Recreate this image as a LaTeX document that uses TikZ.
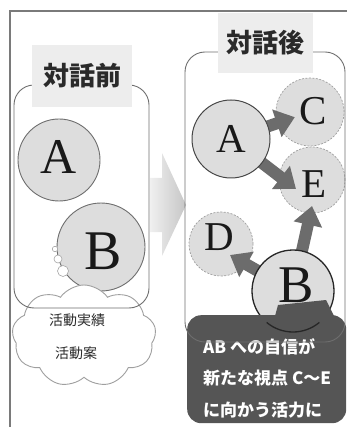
\documentclass[tikz,border=0pt]{standalone}
\usepackage{fontspec}
\newfontfamily\jp{Noto Sans CJK JP}
\newfontfamily\lt{Liberation Serif}
\usetikzlibrary{arrows.meta,shapes.symbols,calc}
\definecolor{cfill}{HTML}{DDDDDD}
\definecolor{cline}{HTML}{6E6E6E}
\definecolor{lblfill}{HTML}{EDEDED}
\definecolor{arrowc}{HTML}{6C6C6C}
\definecolor{boxc}{HTML}{555555}
\definecolor{framec}{HTML}{7A7A7A}
\definecolor{txtc}{HTML}{2A2A2A}
\begin{document}
\begin{tikzpicture}[x=1pt,y=-1pt,
  circ/.style={circle,inner sep=0pt,fill=cfill,draw=cline,line width=0.9pt},
  dcirc/.style={circle,inner sep=0pt,fill=cfill,draw=gray!75,dash pattern=on 2pt off 1.5pt,line width=0.7pt},
  lbl/.style={fill=lblfill,inner sep=0pt,text=txtc,font=\jp\bfseries\fontsize{26}{26}\selectfont},
  panel/.style={draw=cline,line width=0.9pt,rounded corners=20pt,inner sep=0pt},
  fat/.style={draw=arrowc,line width=12pt,-{Triangle[width=28pt,length=19pt]}},
  bubble/.style={circle,inner sep=0pt,draw=gray!70,fill=white,line width=0.6pt},
  cloudtxt/.style={text=txtc,font=\jp\fontsize{14}{14}\selectfont},
  boxtxt/.style={text=white,anchor=west,inner sep=0pt,font=\jp\bfseries\fontsize{17}{17}\selectfont},
  letter/.style={inner sep=0pt,text=black!90,font=\lt\fontsize{#1}{#1}\selectfont},
]
\useasboundingbox (0,0) rectangle (347,427);
% outer frame
\draw[framec,line width=2pt] (10,427) -- (10,11) -- (347,11);
% big transition arrow
\shade[left color=gray!12,right color=gray!45]
  (150,178) -- (162,178) -- (162,153) -- (186,205) -- (162,256) -- (162,232) -- (150,232) -- cycle;

% ---------- before ----------
\node[circ,minimum size=82pt] (A1) at (59,160) {};
\node[letter=50] at (59,157) {A};
\node[circ,minimum size=88pt] (B1) at (101,247) {};
\node[letter=56] at (103,251) {B};
\node[bubble,minimum size=5.5pt] (b1) at (55,249) {};
\node[bubble,minimum size=8pt] (b2) at (58,259) {};
\node[bubble,minimum size=11pt] (b3) at (63,271) {};
\node[cloud,cloud puffs=9,cloud puff arc=110,aspect=1.45,minimum width=144pt,minimum height=102pt,
      draw=gray!75,fill=white,line width=0.9pt] (cl) at (84,336) {};
\node[cloudtxt] (c1) at (77,320) {活動実績};
\node[cloudtxt] (c2) at (76,353) {活動案};
\node[panel,minimum width=135pt,minimum height=223pt] (P1) at (81.5,196.5) {};
\node[lbl,minimum width=100pt,minimum height=62pt] (L1) at (82,76) {対話前};

% ---------- after ----------
\node[dcirc,minimum size=68pt] (C) at (310,112) {};
\node[letter=41] at (313,111) {C};
\node[dcirc,minimum size=66pt] (E) at (312,180) {};
\node[letter=41] at (314,184) {E};
\node[dcirc,minimum size=64pt] (D) at (221,244) {};
\node[letter=41] at (219,237) {D};
\coordinate (tAE) at (296,189);
\coordinate (tBD) at (230,255);
\coordinate (tBE) at (312,206);
\node[circle,inner sep=0pt,minimum size=78pt] (A2) at (231,139) {};
\node[circle,inner sep=0pt,minimum size=82pt] (B2) at (293,291) {};
\draw[fat,shorten <=28pt,shorten >=16pt] (A2.center) -- (C.center);
\draw[fat,shorten <=28pt] (A2.center) -- (tAE);
\draw[fat,shorten <=30pt] (B2.center) -- (tBD);
\draw[fat,shorten <=30pt] (B2.center) -- (tBE);
\node[circ,minimum size=78pt,draw=gray!55!black,line width=1pt] at (A2) {};
\node[circ,minimum size=82pt,draw=black!85,line width=1.3pt] at (B2) {};
% callout box
\fill[boxc] (275,316) -- (278,305) -- (326,300) -- (334,316) -- cycle;
\node[fill=boxc,rounded corners=14pt,minimum width=159pt,minimum height=108pt,inner sep=0pt,anchor=north west] (box) at (187,315) {};
\draw[black!85,line width=1.3pt] (B2.center) ++(-130:41pt) arc[start angle=230,end angle=310,radius=41pt];
\node[letter=41] at (A2) {A};
\node[letter=53] at (296,285) {B};
\node[boxtxt] (t1) at (203,347) {AB への自信が};
\node[boxtxt] (t2) at (203,378) {新たな視点 C〜E};
\node[boxtxt] (t3) at (203,410) {に向かう活力に};
\node[panel,minimum width=160pt,minimum height=290pt] (P2) at (265,197) {};
\node[lbl,minimum width=95pt,minimum height=60pt] (L2) at (265.5,43) {対話後};
\end{tikzpicture}
\end{document}
